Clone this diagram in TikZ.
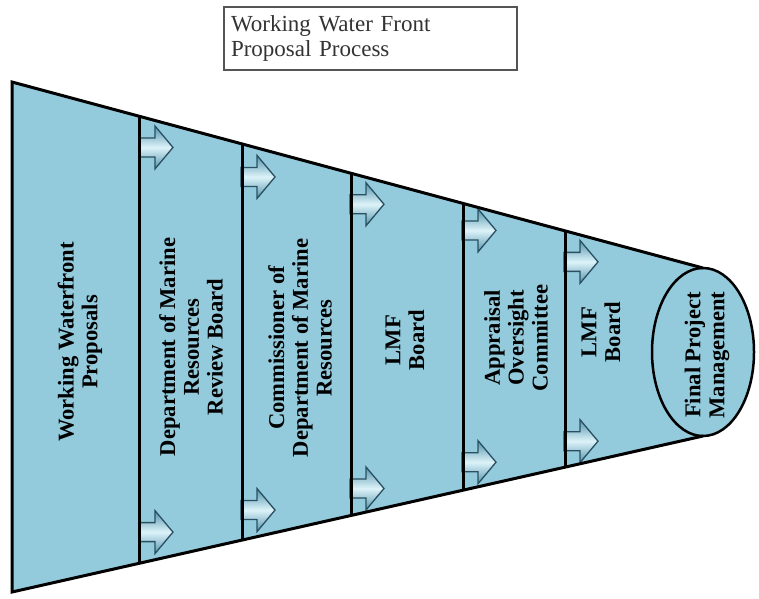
\documentclass[tikz,border=0pt]{standalone}
\usepackage{fontspec}
\setmainfont{Liberation Serif}
\usetikzlibrary{calc,shapes.geometric}

\definecolor{funnelfill}{HTML}{93CBDD}
\definecolor{arrowedge}{HTML}{5294AD}
\definecolor{arrowmid}{HTML}{DDF3F9}
\definecolor{arrowline}{HTML}{2A4F60}
\definecolor{titleline}{HTML}{555555}
\definecolor{titletext}{HTML}{333333}

\tikzset{
  stagelabel/.style={rotate=90, align=center, inner sep=0pt,
    font=\bfseries\fontsize{22.6}{23.8}\selectfont},
  divider/.style={line width=3pt, line cap=butt},
  outline/.style={line width=3pt, line join=miter},
  flowarrow/.pic={
    \shade[top color=arrowedge, bottom color=arrowedge, middle color=arrowmid,
           draw=arrowline, line width=1.3pt, line join=miter]
      (-1,-9.5) -- (15,-9.5) -- (15,-21.5) -- (33,0) -- (15,21.5)
      -- (15,9.5) -- (-1,9.5) -- cycle;
  }
}

\begin{document}
\begin{tikzpicture}[x=1pt,y=-1pt]
\useasboundingbox (0,0) rectangle (759,598);

% funnel corners
\coordinate (tl) at (12,82);
\coordinate (tr) at (703,268);
\coordinate (br) at (703,436);
\coordinate (bl) at (12,592);

% funnel body and end cap
\fill[funnelfill] (tl) -- (tr) -- (br) -- (bl) -- cycle;
\node[ellipse, draw, fill=funnelfill, line width=2.5pt, inner sep=0pt,
      minimum width=102pt, minimum height=168pt] (cap) at (703,352) {};

% stage boundaries
\foreach \f/\n in {0.1852/1,0.3329/2,0.4906/3,0.6527/4,0.8003/5}{
  \coordinate (dt\n) at ($(tl)!\f!(tr)$);
  \coordinate (db\n) at ($(bl)!\f!(br)$);
}

% flow arrows at each boundary
\foreach \n/\a/\b in {1/31/31,2/33/30,3/31/27,4/27/28,5/31/26}{
  \pic at ($(dt\n)+(0,\a)$) {flowarrow};
  \pic at ($(db\n)+(0,-\b)$) {flowarrow};
  \draw[divider] (dt\n) -- (db\n);
}

% outline
\draw[outline] (tr) -- (tl) -- (bl) -- (br);

% stage labels
\node[stagelabel] (s1) at (80,342) {Working Waterfront\\Proposals};
\node[stagelabel] (s2) at (191,347) {Department of Marine\\Resources\\Review Board};
\node[stagelabel] (s3) at (300,348) {Commissioner of\\Department of Marine\\Resources};
\node[stagelabel] (s4) at (405,340) {LMF\\Board};
\node[stagelabel] (s5) at (516,338) {Appraisal\\Oversight\\Committee};
\node[stagelabel] (s6) at (601,332) {LMF\\Board};
\node[stagelabel] (s7) at (707,355) {Final Project\\Management};

% title box
\node[draw=titleline, line width=2pt, minimum width=293pt, minimum height=63pt,
      text width=279pt, align=left, inner sep=0pt, text=titletext,
      font=\fontsize{23}{25}\selectfont] (title) at (370.5,38.5)
      {Working Water Front\\Proposal Process};
\end{tikzpicture}
\end{document}
